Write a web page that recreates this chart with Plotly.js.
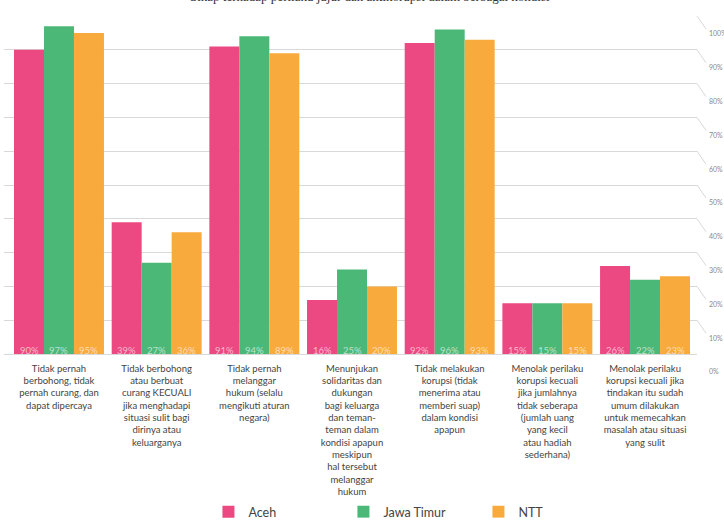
<!DOCTYPE html>
<html>
<head>
<meta charset="utf-8">
<script src="https://cdn.plot.ly/plotly-3.0.1.min.js"></script>
<style>
  html, body { margin: 0; padding: 0; background: #ffffff; }
  #chart { width: 724px; height: 527px; }
</style>
</head>
<body>
<div id="chart"></div>
<script>
// Survey statements (x categories)
const categories = [
  "Tidak pernah<br>berbohong, tidak<br>pernah curang, dan<br>dapat dipercaya",
  "Tidak berbohong<br>atau berbuat<br>curang KECUALI<br>jika menghadapi<br>situasi sulit bagi<br>dirinya atau<br>keluarganya",
  "Tidak pernah<br>melanggar<br>hukum (selalu<br>mengikuti aturan<br>negara)",
  "Menunjukan<br>solidaritas dan<br>dukungan<br>bagi keluarga<br>dan teman-<br>teman dalam<br>kondisi apapun<br>meskipun<br>hal tersebut<br>melanggar<br>hukum",
  "Tidak melakukan<br>korupsi (tidak<br>menerima atau<br>memberi suap)<br>dalam kondisi<br>apapun",
  "Menolak perilaku<br>korupsi kecuali<br>jika jumlahnya<br>tidak seberapa<br>(jumlah uang<br>yang kecil<br>atau hadiah<br>sederhana)",
  "Menolak perilaku<br>korupsi kecuali jika<br>tindakan itu sudah<br>umum dilakukan<br>untuk memecahkan<br>masalah atau situasi<br>yang sulit"
];

// Percentages per province
const aceh      = [90, 39, 91, 16, 92, 15, 26];
const jawaTimur = [97, 27, 94, 25, 96, 15, 22];
const ntt       = [95, 36, 89, 20, 93, 15, 23];

const seriesNames = ["Aceh", "Jawa Timur", "NTT"];

// Right-hand percentage scale
const tickValues = [0, 10, 20, 30, 40, 50, 60, 70, 80, 90, 100];
const tickLabels = ["0%", "10%", "20%", "30%", "40%", "50%", "60%", "70%", "80%", "90%", "100%"];

const colors = ["#ec4881", "#4bb877", "#f9aa3c"];
const seriesValues = [aceh, jawaTimur, ntt];

const W = 724, H = 527;
const margin = { l: 4, r: 27, t: 16, b: 173 };
const xRange = [-0.563, 6.532];
const bargap = 0.079;

const traces = seriesValues.map((vals, i) => ({
  type: "bar",
  name: seriesNames[i],
  x: categories,
  y: vals,
  marker: { color: colors[i] },
  hoverinfo: "skip"
}));

// Percentage labels sitting at the foot of each bar
const plotW = W - margin.l - margin.r;
const pxPerCat = plotW / (xRange[1] - xRange[0]);
const barPx = (1 - bargap) * pxPerCat / seriesValues.length;
const valueLabels = [];
seriesValues.forEach((vals, i) => {
  const dx = (i - (seriesValues.length - 1) / 2) * barPx;
  vals.forEach((v, j) => {
    valueLabels.push({
      x: categories[j], y: 0, xref: "x", yref: "y",
      text: v + "%",
      showarrow: false,
      xshift: dx, yanchor: "bottom", yshift: -4,
      font: { family: "Lato, 'Open Sans', sans-serif", size: 9.5, color: "rgba(255,255,255,0.62)" }
    });
  });
});

// Chart heading, mostly above the top edge
valueLabels.push({
  text: "Sikap terhadap perilaku jujur dan antikorupsi dalam berbagai kondisi",
  xref: "paper", yref: "paper", x: (370 - margin.l) / plotW, y: 1,
  xanchor: "center", yanchor: "middle", yshift: 20,
  showarrow: false,
  font: { family: "'Liberation Serif', 'DejaVu Serif', serif", size: 13, color: "#333333" }
});

// Short slanted connectors from each gridline to its offset label
const connectors = tickValues.map(v => ({
  type: "line",
  xref: "paper", xsizemode: "pixel", xanchor: 1, x0: 0, x1: 9,
  yref: "y", ysizemode: "pixel", yanchor: v, y0: 0, y1: -13,
  line: { color: "#d9d9d9", width: 1 }
}));

const layout = {
  width: W,
  height: H,
  margin: margin,
  paper_bgcolor: "#ffffff",
  plot_bgcolor: "#ffffff",
  barmode: "group",
  bargap: bargap,
  bargroupgap: 0,
  showlegend: true,
  xaxis: {
    type: "category",
    categoryorder: "array",
    categoryarray: categories,
    range: xRange,
    showgrid: false,
    zeroline: false,
    showline: false,
    ticks: "",
    ticklabelstandoff: 7,
    tickangle: 0,
    tickfont: { family: "Lato, 'Open Sans', sans-serif", size: 9.5, color: "#444444" }
  },
  yaxis: {
    range: [0, 100],
    side: "right",
    tickvals: tickValues,
    ticktext: tickLabels,
    showgrid: true,
    gridcolor: "#d9d9d9",
    gridwidth: 1,
    zeroline: true,
    zerolinecolor: "#d9d9d9",
    zerolinewidth: 1,
    showline: false,
    ticks: "",
    ticklabelshift: 18,
    ticklabelstandoff: 11,
    tickfont: { family: "Lato, 'Open Sans', sans-serif", size: 7, color: "#8a8a8a" },
    fixedrange: true
  },
  shapes: connectors,
  annotations: valueLabels,
  legend: {
    orientation: "h",
    x: 0.295, xanchor: "left",
    y: 0, yref: "container", yanchor: "bottom",
    entrywidth: 90,
    entrywidthmode: "pixels",
    font: { family: "Lato, 'Open Sans', sans-serif", size: 12.5, color: "#444444" },
    itemclick: false,
    itemdoubleclick: false
  }
};

Plotly.newPlot("chart", traces, layout, { staticPlot: true, displayModeBar: false });
</script>
</body>
</html>
